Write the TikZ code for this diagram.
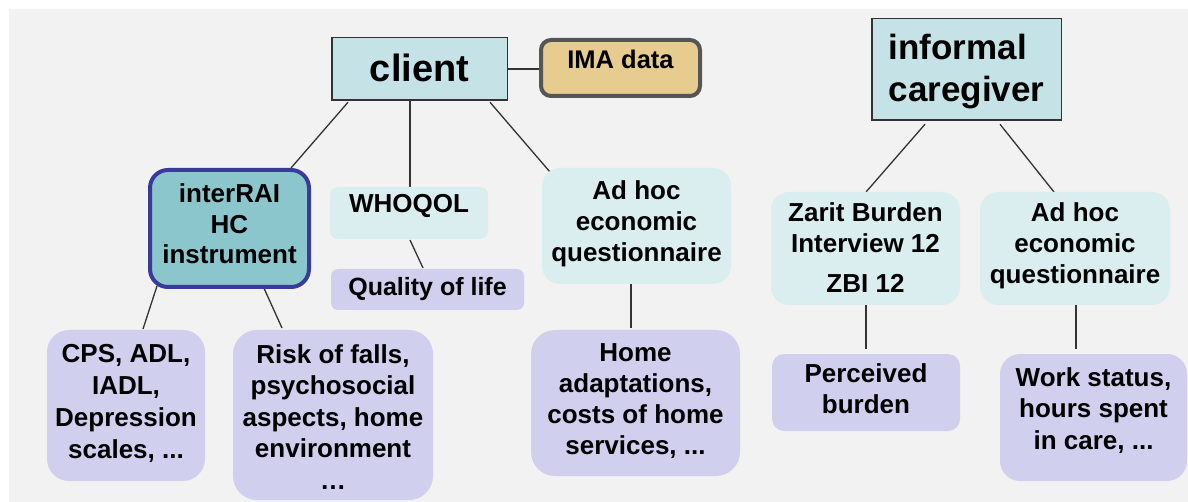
\documentclass[tikz,border=0pt]{standalone}
\usepackage{fontspec}
\setmainfont{Liberation Sans}
\usetikzlibrary{calc}
\definecolor{bgc}{HTML}{F2F2F2}
\definecolor{cyanL}{HTML}{C5E3E6}
\definecolor{tanC}{HTML}{E6CD8F}
\definecolor{tealC}{HTML}{8BC6CC}
\definecolor{dblue}{HTML}{393B9B}
\definecolor{paleC}{HTML}{DAEEF0}
\definecolor{lavC}{HTML}{D0D0EE}
\definecolor{lineC}{HTML}{333333}
\definecolor{imaB}{HTML}{555555}
\pgfdeclarelayer{back}
\pgfdeclarelayer{bg}
\pgfsetlayers{back,bg,main}
\newcommand\bt[2]{\raisebox{#1pt}[0pt][0pt]{\begin{tabular}[t]{@{}c@{}}#2\end{tabular}}}
\newcommand\btl[2]{\raisebox{#1pt}[0pt][0pt]{\begin{tabular}[t]{@{}l@{}}#2\end{tabular}}}
\tikzset{
  every node/.style={outer sep=0pt, inner sep=0pt},
  sz/.style 2 args={minimum width=#1pt, minimum height=#2pt},
  sqbox/.style={rectangle, fill=cyanL, draw=lineC, line width=1.5pt},
  imabox/.style={rectangle, rounded corners=10pt, fill=tanC, draw=imaB, line width=4pt},
  iraibox/.style={rectangle, rounded corners=18pt, fill=tealC, draw=dblue, line width=4pt},
  palebox/.style={rectangle, rounded corners=#1pt, fill=paleC},
  lavbox/.style={rectangle, rounded corners=#1pt, fill=lavC},
  conn/.style={draw=lineC, line width=1.3pt},
  f26/.style={font=\fontsize{26}{#1}\selectfont\bfseries},
}
\begin{document}
\begin{tikzpicture}[x=1pt,y=-1pt]
\useasboundingbox (0,0) rectangle (1188,502);
\begin{pgfonlayer}{back}
\fill[bgc] (8.5,9) rectangle (1188,502);
\end{pgfonlayer}

\node[sqbox, sz={175.5}{62.5}, font=\fontsize{38}{44}\selectfont\bfseries] (client) at (419.5,69) {\bt{-13}{client}};
\node[imabox, sz={159}{56}, font=\fontsize{25.5}{30}\selectfont\bfseries] (ima) at (620.5,68) {\bt{-1}{IMA data}};
\node[sqbox, sz={189.5}{101.5}, font=\fontsize{35}{42}\selectfont\bfseries] (inf) at (966.5,69.5) {\btl{9.5}{informal\\caregiver}};

\node[iraibox, sz={159}{117}, f26=30.5] (irai) at (229.5,228.5) {\bt{25.5}{interRAI\\HC\\instrument}};
\node[palebox=8, sz={158}{52}, f26=31] (who) at (409,213) {\bt{0}{WHOQOL}};
\node[lavbox=7, sz={193}{41}, font=\fontsize{25}{30}\selectfont\bfseries] (qol) at (427.5,289.5) {\bt{-6.5}{Quality of life}};
\node[palebox=18, sz={189}{116}, f26=31] (adhoc1) at (636.5,226) {\bt{26}{Ad hoc\\economic\\questionnaire}};

\node[lavbox=22, sz={158}{151}, f26=32] (cps) at (126,405.5) {\bt{43.5}{CPS, ADL,\\IADL,\\Depression\\scales, ...}};
\node[lavbox=24, sz={200}{170}, f26=31.5] (risk) at (333,415) {\bt{52}{Risk of falls,\\psychosocial\\aspects, home\\environment\\…}};
\node[lavbox=24, sz={209}{146}, f26=31.3] (home) at (635.5,403) {\bt{42}{Home\\adaptations,\\costs of home\\services, ...}};

\node[palebox=18, sz={189}{113}, f26=31] (zarit) at (865.5,248.5) {\bt{26.5}{Zarit Burden\\Interview 12\\[9pt]ZBI 12}};
\node[palebox=18, sz={190}{113}, f26=31] (adhoc2) at (1075,248.5) {\bt{26.5}{Ad hoc\\economic\\questionnaire}};
\node[lavbox=12, sz={188}{77}, f26=31] (perc) at (866,392.5) {\bt{10.5}{Perceived\\burden}};
\node[lavbox=20, sz={187}{127}, f26=31.5] (work) at (1093.5,417.5) {\bt{31.5}{Work status,\\hours spent\\in care, ...}};

\begin{pgfonlayer}{bg}
\draw[conn] (client.east) -- (client.east -| ima.west);
\draw[conn] ([xshift=-71.5pt,yshift=-2pt]client.south) -- ([xshift=61.5pt,yshift=2pt]irai.north);
\draw[conn] ([xshift=-9.5pt]client.south) -- ([xshift=1pt]who.north);
\draw[conn] ([xshift=70.5pt,yshift=-2pt]client.south) -- ([xshift=-86.5pt,yshift=-4pt]adhoc1.north);
\draw[conn] ([xshift=1pt,yshift=-1pt]who.south) -- ([xshift=-4.5pt,yshift=1pt]qol.north);
\draw[conn] ([xshift=-72.5pt,yshift=1pt]irai.south) -- ([xshift=17pt,yshift=1pt]cps.north);
\draw[conn] ([xshift=33.5pt,yshift=1pt]irai.south) -- ([xshift=-51pt,yshift=2pt]risk.north);
\draw[conn] ([xshift=-5.5pt]adhoc1.south) -- ([xshift=-4.5pt,yshift=2pt]home.north);
\draw[conn] ([xshift=-41.5pt,yshift=-4pt]inf.south) -- ([xshift=0.5pt]zarit.north);
\draw[conn] ([xshift=33.5pt,yshift=-4pt]inf.south) -- ([xshift=-21pt]adhoc2.north);
\draw[conn] ([xshift=0.5pt]zarit.south) -- ([yshift=5pt]perc.north);
\draw[conn] ([xshift=1pt]adhoc2.south) -- ([xshift=-17.5pt,yshift=5pt]work.north);
\end{pgfonlayer}
\end{tikzpicture}
\end{document}
